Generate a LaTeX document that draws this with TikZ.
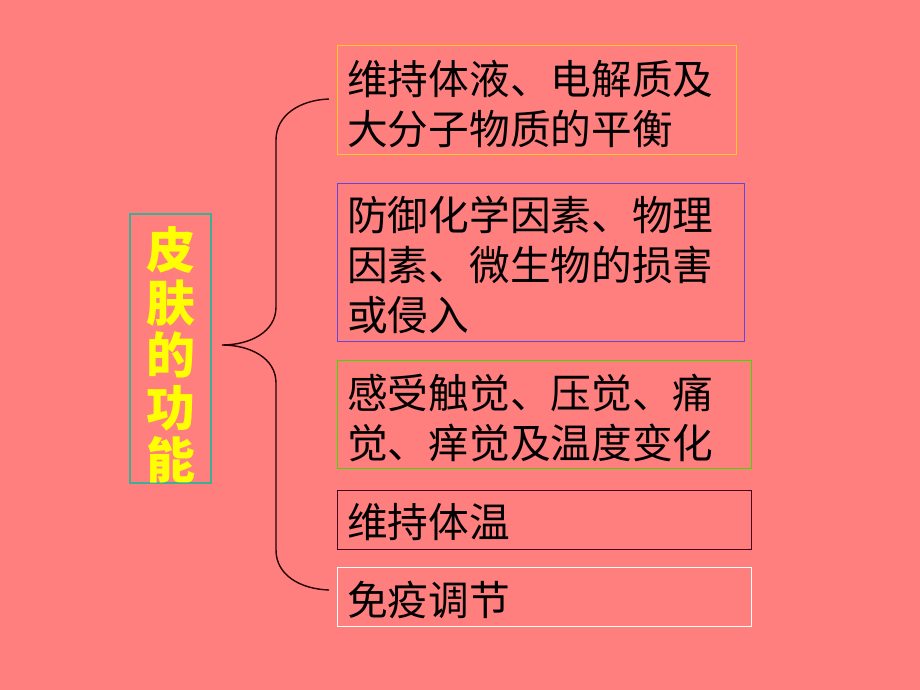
\documentclass[tikz,border=0pt]{standalone}
\usepackage{fontspec}
\setmainfont{Noto Sans CJK SC}
\newfontfamily\cjk{Noto Sans CJK SC}
\definecolor{bgpink}{RGB}{255,127,127}
\definecolor{bordA}{RGB}{255,200,40}
\definecolor{bordB}{RGB}{100,70,220}
\definecolor{bordC}{RGB}{60,220,0}
\definecolor{bordD}{RGB}{70,0,30}
\definecolor{bordT}{RGB}{60,175,150}
\definecolor{titleyellow}{RGB}{255,255,0}
\begin{document}
\begin{tikzpicture}[x=1pt,y=-1pt,
  itembox/.style={draw, line width=1.3pt, anchor=north west, inner sep=0pt},
  itemtext/.style={anchor=west, align=left, inner sep=0pt, text=black,
    font=\cjk\fontsize{40.7}{50}\selectfont},
  bracepath/.style={draw=black!85!red, line width=1.4pt}]
\fill[bgpink] (0,0) rectangle (920,690);
\useasboundingbox (0,0) rectangle (920,690);

% title
\node[draw=bordT, line width=1.3pt, minimum width=81pt, minimum height=269pt, inner sep=0pt] (title) at (170.5,348.5) {};
\node[align=center, inner sep=0pt, text=titleyellow, font=\cjk\bfseries\fontsize{49}{52.5}\selectfont] (titletext) at (171,355) {皮\\肤\\的\\功\\能};

% boxes
\node[itembox, draw=bordA, minimum width=399pt, minimum height=109pt] (b1) at (337,45) {};
\node[itemtext] (t1) at (347,104) {维持体液、电解质及\\大分子物质的平衡};

\node[itembox, draw=bordB, minimum width=407pt, minimum height=158pt] (b2) at (337,183) {};
\node[itemtext] (t2) at (347,265) {防御化学因素、物理\\因素、微生物的损害\\或侵入};

\node[itembox, draw=bordC, minimum width=414pt, minimum height=108pt] (b3) at (337,360) {};
\node[itemtext] (t3) at (347,418) {感受触觉、压觉、痛\\觉、痒觉及温度变化};

\node[itembox, draw=bordD, minimum width=414pt, minimum height=59pt] (b4) at (337,490) {};
\node[itemtext] (t4) at (347,522) {维持体温};

\node[itembox, draw=white, minimum width=414pt, minimum height=59pt] (b5) at (337,567) {};
\node[itemtext] (t5) at (347,600) {免疫调节};

% brace
\coordinate (btop) at (329,99);
\coordinate (btip) at (222,345);
\coordinate (bbot) at (329,590);
\draw[bracepath] (btop) .. controls (300,100) and (276,115) .. (276,140) -- (276,307)
  .. controls (276,332) and (250,345) .. (btip)
  .. controls (250,345) and (276,358) .. (276,383) -- (276,550)
  .. controls (276,575) and (300,589) .. (bbot);
\end{tikzpicture}
\end{document}
